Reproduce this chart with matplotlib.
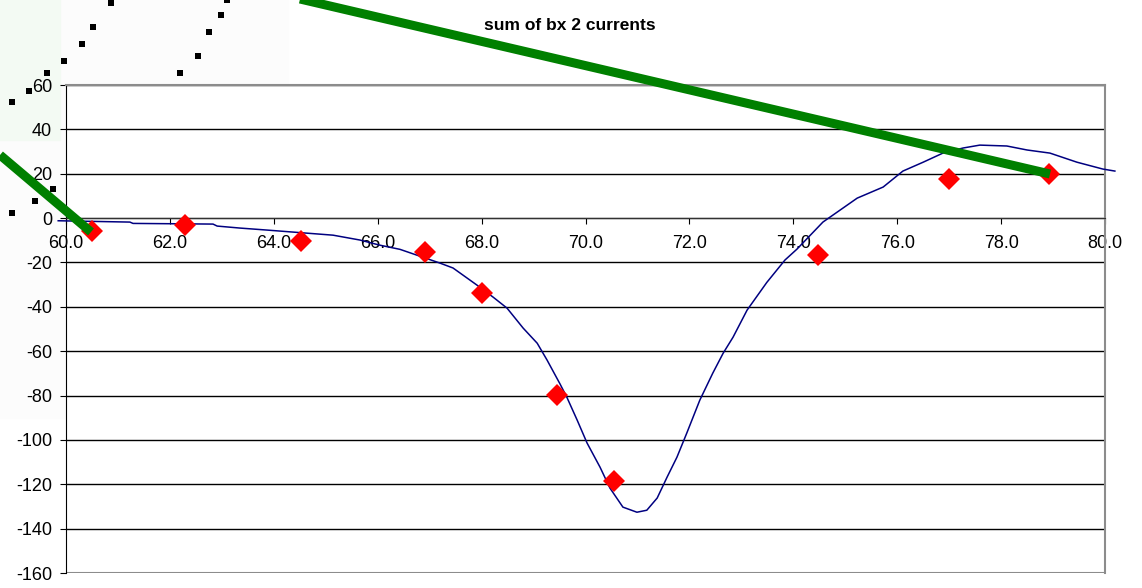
import matplotlib
matplotlib.use('Agg')
import matplotlib.pyplot as plt
from matplotlib.patches import Rectangle
from matplotlib.ticker import MultipleLocator, FormatStrFormatter

plt.rcParams['font.family'] = ['Liberation Sans', 'DejaVu Sans']

# blue curve (sum of bx 2 currents)
curve_x = [59.85, 61.23, 61.29, 62.83, 62.91, 63.35, 63.87, 64.31, 65.14, 65.66,
           66.04, 66.43, 67.20, 67.45, 67.91, 68.22, 68.49, 68.80, 69.07, 69.26,
           69.51, 69.64, 69.84, 70.03, 70.28, 70.47, 70.72, 70.99, 71.18, 71.38,
           71.57, 71.76, 71.95, 72.20, 72.45, 72.65, 72.84, 73.11, 73.49, 73.84,
           74.07, 74.57, 74.90, 75.23, 75.73, 76.11, 76.50, 76.88, 77.27, 77.59,
           78.11, 78.50, 78.94, 79.46, 79.96, 80.19]
curve_y = [-1.2, -1.8, -2.4, -2.7, -3.6, -4.5, -5.4, -6.2, -7.7, -9.9,
           -12.2, -14.1, -20.3, -22.5, -30.2, -35.6, -40.6, -49.6, -56.4, -64.0,
           -74.8, -80.7, -91.1, -101.4, -112.3, -121.7, -130.3, -132.6, -131.7, -126.2,
           -116.8, -107.8, -96.9, -82.1, -69.9, -60.9, -53.7, -41.5, -29.0, -18.9,
           -14.0, -1.8, 3.6, 9.0, 14.0, 21.2, 25.2, 29.3, 31.6, 32.9,
           32.5, 30.7, 29.3, 25.2, 22.1, 21.2]

# red diamonds (measured points)
meas_x = [60.5, 62.29, 64.52, 66.91, 68.01, 69.45, 70.55, 74.48, 77.0, 78.92]
meas_y = [-5.9, -3.2, -10.4, -15.3, -33.8, -79.8, -118.6, -16.7, 17.6, 19.8]

y_ticks = [-160, -140, -120, -100, -80, -60, -40, -20, 0, 20, 40, 60]

# overlay bits (in picture pixels)
green_a_x = [0, 91]
green_a_y = [155, 232]
green_b_x = [300, 1050]
green_b_y = [-1, 174]
dots_x = [111, 93, 82, 64, 47, 29, 12, 53, 35, 12, 180, 198, 209, 221, 227]
dots_y = [3, 27, 44, 61, 73, 91, 102, 189, 201, 213, 73, 56, 32, 15, 0]

W, H = 1142, 588
fig = plt.figure(figsize=(W / 100, H / 100), dpi=100)
fig.patch.set_facecolor('white')

# faint pasted-in background at top left
fig.patches.append(Rectangle((0, 1 - 418 / H), 288 / W, 418 / H,
                             transform=fig.transFigure, color='#fcfcfc', zorder=0))
fig.patches.append(Rectangle((0, 1 - 140 / H), 60 / W, 140 / H,
                             transform=fig.transFigure, color='#f3faf3', zorder=0))

ax = fig.add_axes([66 / W, 15 / H, 1039 / W, 488 / H], zorder=2)
ax.set_facecolor('white')
ax.set_xlim(60, 80)
ax.set_ylim(-160, 60)

ax.set_yticks(y_ticks)
ax.xaxis.set_major_locator(MultipleLocator(2))
ax.xaxis.set_major_formatter(FormatStrFormatter('%.1f'))
ax.yaxis.set_major_formatter(FormatStrFormatter('%d'))

ax.grid(axis='y', color='black', linewidth=1)
ax.set_axisbelow(True)

ax.spines['bottom'].set_position(('data', 0))
ax.spines['bottom'].set_color('#333333')
ax.spines['left'].set_color('black')
for s in ['top', 'right']:
    ax.spines[s].set_color('#8c8c8c')
    ax.spines[s].set_linewidth(1.5)

# bottom border of the plot area
ax.axhline(-160, color='#8c8c8c', linewidth=1.5, zorder=1)

ax.tick_params(axis='x', direction='out', length=4, pad=8, labelsize=13, colors='black')
ax.tick_params(axis='y', direction='out', length=4, pad=6, labelsize=13, colors='black')

ax.plot(curve_x, curve_y, color='#000080', linewidth=1.1, clip_on=False, zorder=3)
ax.plot(meas_x, meas_y, linestyle='none', marker='D', markersize=11.5,
        color='#ff0000', markeredgewidth=0, zorder=4)

fig.text(570 / W, 1 - 25 / H, 'sum of bx 2 currents', ha='center', va='center',
         fontsize=12.5, fontweight='bold')

# overlay in pixel coordinates
ov = fig.add_axes([0, 0, 1, 1], zorder=5)
ov.set_xlim(0, W)
ov.set_ylim(H, 0)
ov.axis('off')
ov.patch.set_alpha(0)
ov.plot(green_a_x, green_a_y, color='#008000', linewidth=6.5, solid_capstyle='butt')
ov.plot(green_b_x, green_b_y, color='#008000', linewidth=6.5, solid_capstyle='butt')
ov.scatter(dots_x, dots_y, marker='s', s=16, color='black', linewidths=0)

fig.savefig('out.png', dpi=100)
